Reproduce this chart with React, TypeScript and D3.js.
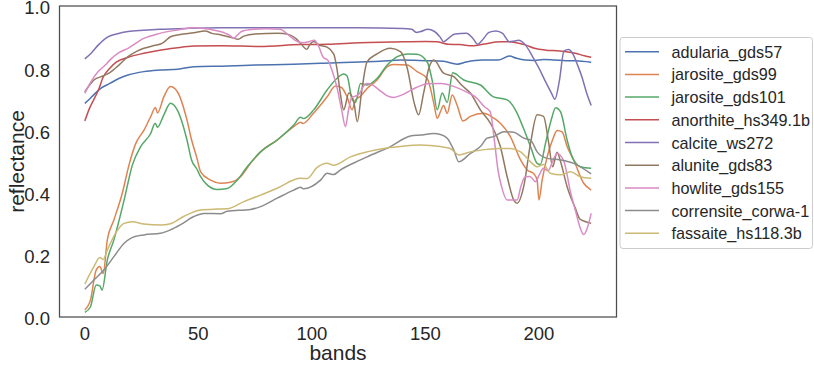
import React from "react";
import * as d3 from "d3";

type Pt = [number, number];

// [band, reflectance]
const adularia: Pt[] = [
  [0, 0.687], [2, 0.7], [4, 0.715], [7, 0.735], [11, 0.751], [15, 0.767], [19, 0.778],
  [26, 0.789], [33, 0.794], [41, 0.797], [48, 0.805], [63, 0.807], [75, 0.81], [92, 0.813],
  [105, 0.816], [121, 0.82], [130, 0.822], [139, 0.826], [150, 0.824], [158, 0.822],
  [164, 0.813], [168, 0.82], [175, 0.826], [182, 0.826], [187, 0.839], [190, 0.832],
  [194, 0.826], [198, 0.825], [202, 0.828], [207, 0.826], [212, 0.824], [216, 0.824],
  [223, 0.819],
];

const jarosite99: Pt[] = [
  [0, 0.023], [2.5, 0.055], [5, 0.151], [6.6, 0.162], [8.1, 0.14], [9.9, 0.248],
  [12.8, 0.312], [16.5, 0.398], [19.5, 0.49], [22.5, 0.559], [26, 0.6], [29, 0.644],
  [31.1, 0.674], [32, 0.656], [34.8, 0.708], [37.7, 0.741], [40.7, 0.725], [45, 0.633],
  [47, 0.57], [49.4, 0.51], [51, 0.467], [55.4, 0.44], [59.8, 0.43], [64.2, 0.433],
  [68.6, 0.451], [73, 0.494], [77.4, 0.531], [84.7, 0.569], [92, 0.612], [95, 0.626],
  [96, 0.622], [100.8, 0.656], [106.7, 0.708], [110.4, 0.743], [113, 0.738], [115.5, 0.708],
  [117.7, 0.666], [119.2, 0.698], [121.4, 0.71], [124.3, 0.735], [128.7, 0.762],
  [133.2, 0.805], [136, 0.812], [142, 0.81], [146.3, 0.789], [150.8, 0.767], [153.7, 0.687],
  [155.2, 0.639], [156.6, 0.66], [158, 0.68], [159.6, 0.655], [161.8, 0.714], [164, 0.68],
  [166.5, 0.63], [169.8, 0.645], [175.7, 0.655], [180, 0.64], [183, 0.623], [187.4, 0.58],
  [191.9, 0.505], [194.8, 0.473], [197.8, 0.46], [199.2, 0.44], [200, 0.376], [201.4, 0.44],
  [203.6, 0.515], [206, 0.57], [208, 0.6], [210.2, 0.595], [212.4, 0.548], [215.3, 0.505],
  [219.7, 0.43], [223, 0.408],
];

const jarosite101: Pt[] = [
  [0, 0.015], [2.5, 0.033], [5, 0.103], [6.6, 0.1], [7.6, 0.087], [9.9, 0.183],
  [12.8, 0.248], [17.3, 0.376], [21, 0.49], [24.6, 0.548], [29, 0.59], [31, 0.623],
  [32, 0.61], [34.8, 0.65], [37.7, 0.687], [40.7, 0.666], [45, 0.569], [47, 0.505],
  [49.4, 0.475], [51, 0.451], [54, 0.424], [58.3, 0.41], [62.7, 0.413], [67.1, 0.44],
  [71.5, 0.483], [77.4, 0.531], [84.7, 0.569], [92, 0.617], [95, 0.642], [96.3, 0.638],
  [100.8, 0.666], [106.7, 0.73], [111, 0.767], [114, 0.781], [115.5, 0.775], [117.7, 0.7],
  [119.2, 0.69], [121.4, 0.751], [124.3, 0.746], [128.7, 0.767], [133.2, 0.81],
  [137.6, 0.837], [142, 0.846], [146.3, 0.845], [150.8, 0.82], [153, 0.76], [155.2, 0.666],
  [157.4, 0.72], [159.6, 0.69], [162, 0.785], [166.9, 0.762], [174.2, 0.746], [180, 0.708],
  [186, 0.698], [190.4, 0.655], [193, 0.61], [196.3, 0.548], [199.2, 0.494], [200.6, 0.49],
  [202.9, 0.559], [205.8, 0.644], [207.3, 0.673], [209.5, 0.66], [212.4, 0.569],
  [214.6, 0.515], [218.3, 0.483], [223, 0.478],
];

const anorthite: Pt[] = [
  [0, 0.63], [2, 0.67], [4, 0.7], [6, 0.73], [8, 0.77], [11, 0.8], [14, 0.82], [19, 0.835],
  [26, 0.848], [33, 0.858], [40, 0.865], [48, 0.871], [60, 0.872], [77, 0.87], [95, 0.876],
  [107, 0.877], [121, 0.882], [135, 0.884], [150, 0.886], [155, 0.885], [160, 0.877],
  [165, 0.876], [171, 0.872], [176, 0.878], [183, 0.885], [187, 0.885], [190, 0.882],
  [194, 0.875], [198, 0.864], [203, 0.858], [208, 0.856], [212, 0.853], [216, 0.848],
  [220, 0.84], [223, 0.835],
];

const calcite: Pt[] = [
  [0, 0.83], [3, 0.85], [6, 0.875], [10, 0.9], [14, 0.91], [19, 0.918], [26, 0.922],
  [33, 0.925], [45, 0.928], [60, 0.93], [80, 0.93], [100, 0.93], [120, 0.93], [140, 0.928],
  [144, 0.925], [146, 0.915], [148, 0.918], [151, 0.925], [154, 0.918], [156.5, 0.9],
  [158, 0.885], [160, 0.895], [163, 0.91], [168, 0.912], [171, 0.895], [173, 0.877],
  [175, 0.89], [178, 0.915], [181, 0.92], [184, 0.912], [187, 0.885], [189, 0.887],
  [191, 0.89], [194, 0.875], [197, 0.84], [200, 0.8], [203, 0.755], [205.5, 0.72],
  [207, 0.7], [209, 0.76], [211, 0.855], [213, 0.86], [215, 0.845], [217, 0.81],
  [219, 0.77], [221, 0.72], [223, 0.68],
];

const alunite: Pt[] = [
  [0, 0.724], [2, 0.745], [4, 0.762], [8, 0.775], [11, 0.786], [15, 0.81], [19, 0.837],
  [23, 0.855], [26, 0.864], [30, 0.872], [33, 0.877], [35, 0.885], [37.7, 0.901], [42, 0.908],
  [48, 0.914], [53, 0.92], [56, 0.912], [60, 0.907], [65, 0.898], [67.5, 0.893], [70, 0.903],
  [75, 0.91], [85, 0.912], [90, 0.908], [93, 0.895], [95, 0.88], [97.8, 0.861], [99, 0.875],
  [100.8, 0.886], [103, 0.875], [106.7, 0.868], [109.6, 0.846], [111, 0.8], [112.5, 0.72],
  [114, 0.666], [116.3, 0.72], [118.5, 0.69], [120, 0.628], [122, 0.73], [124.3, 0.82],
  [128.7, 0.846], [134.6, 0.864], [139, 0.853], [142, 0.8], [145, 0.69], [147, 0.65],
  [149.2, 0.72], [151.5, 0.8], [153.7, 0.826], [158, 0.784], [162.5, 0.773], [166, 0.745],
  [169.8, 0.72], [174.2, 0.666], [178.6, 0.623], [183, 0.548], [186, 0.451], [188.9, 0.376],
  [190.4, 0.366], [193.3, 0.42], [196.3, 0.559], [199.2, 0.65], [202, 0.645], [204.3, 0.559],
  [206, 0.483], [208, 0.53], [209.5, 0.5], [212.4, 0.419], [216, 0.35], [218, 0.315],
  [220, 0.308], [223, 0.301],
];

const howlite: Pt[] = [
  [0, 0.719], [3, 0.76], [6, 0.79], [9, 0.81], [11, 0.826], [15, 0.85], [19, 0.864],
  [26, 0.896], [33, 0.912], [40, 0.922], [48, 0.93], [55, 0.925], [62, 0.912], [64, 0.905],
  [65.6, 0.896], [67, 0.905], [69, 0.918], [74, 0.925], [80, 0.927], [86, 0.925], [90, 0.905],
  [93, 0.888], [96, 0.882], [99, 0.886], [101, 0.89], [103, 0.87], [105, 0.835], [107, 0.826],
  [109, 0.79], [111, 0.74], [113, 0.67], [114.8, 0.612], [116, 0.66], [117.5, 0.705],
  [120.5, 0.715], [124, 0.751], [127, 0.745], [130, 0.728], [133, 0.712], [136, 0.706],
  [140, 0.715], [146, 0.738], [151, 0.75], [157, 0.751], [163, 0.74], [168, 0.724],
  [172, 0.708], [176, 0.676], [178.5, 0.66], [180.5, 0.56], [182, 0.47], [183.5, 0.42],
  [186, 0.376], [190.4, 0.376], [192, 0.419], [194, 0.451], [196, 0.452], [198.5, 0.435],
  [200, 0.455], [202, 0.478], [204, 0.47], [206, 0.5], [208, 0.526], [211, 0.5],
  [214, 0.398], [216, 0.344], [218, 0.29], [219.7, 0.265], [221, 0.28], [223, 0.333],
];

const corrensite: Pt[] = [
  [0, 0.089], [4, 0.119], [8.4, 0.151], [12.8, 0.194], [17.3, 0.237], [20.2, 0.253],
  [26, 0.264], [33.3, 0.269], [37.7, 0.28], [42, 0.296], [48, 0.323], [52.4, 0.333],
  [59.8, 0.332], [62.7, 0.34], [73, 0.346], [77.4, 0.355], [84.7, 0.382], [92, 0.408],
  [95, 0.417], [96.4, 0.412], [103.8, 0.44], [106.7, 0.462], [109.6, 0.458], [112.6, 0.473],
  [121.4, 0.505], [124.3, 0.515], [134.6, 0.548], [143.4, 0.582], [147.7, 0.585],
  [153.7, 0.59], [156.6, 0.587], [159.6, 0.575], [162.5, 0.537], [164.7, 0.499],
  [169.8, 0.526], [174.2, 0.548], [177.2, 0.575], [180, 0.58], [184.5, 0.596],
  [188.9, 0.594], [193.3, 0.575], [196.3, 0.569], [199.2, 0.531], [203.6, 0.51],
  [209.5, 0.505], [215.3, 0.494], [223, 0.46],
];

const fassaite: Pt[] = [
  [0, 0.106], [4, 0.162], [6.6, 0.191], [8.1, 0.185], [9.9, 0.215], [13.5, 0.269],
  [17.3, 0.301], [21, 0.306], [26, 0.299], [33.3, 0.296], [37.7, 0.3], [43.5, 0.323],
  [51, 0.344], [58.3, 0.347], [62.7, 0.348], [70, 0.371], [77.4, 0.392], [84.7, 0.414],
  [95, 0.446], [97.8, 0.445], [102.2, 0.48], [106.7, 0.494], [109.6, 0.488], [117, 0.515],
  [124.3, 0.531], [131.7, 0.542], [139, 0.548], [147.7, 0.553], [156.6, 0.548],
  [160.9, 0.542], [164.7, 0.521], [169.8, 0.531], [177.2, 0.539], [183, 0.542],
  [187.4, 0.542], [191.9, 0.531], [196.3, 0.499], [199.2, 0.483], [202, 0.49], [205, 0.462],
  [209.5, 0.457], [213.9, 0.467], [218.3, 0.451], [223, 0.446],
];

const seriesNames = [
  "adularia_gds57",
  "jarosite_gds99",
  "jarosite_gds101",
  "anorthite_hs349.1b",
  "calcite_ws272",
  "alunite_gds83",
  "howlite_gds155",
  "corrensite_corwa-1",
  "fassaite_hs118.3b",
];
const seriesData = [adularia, jarosite99, jarosite101, anorthite, calcite, alunite, howlite, corrensite, fassaite];
const palette = ["#4C72B0", "#DD8452", "#55A868", "#C44E52", "#8172B3", "#937860", "#DA8BC3", "#8C8C8C", "#CCB974"];

const xTicks = [0, 50, 100, 150, 200];
const yTicks = [0, 0.2, 0.4, 0.6, 0.8, 1.0];

const FONT = "'Liberation Sans', Arial, sans-serif";

export default function App() {
  const width = 814;
  const height = 367;
  const plot = { left: 59.5, right: 616.5, top: 6, bottom: 317 };

  // matplotlib-like 5% margins around bands 0..223
  const x = d3.scaleLinear().domain([-11.15, 234.15]).range([plot.left, plot.right]);
  const y = d3.scaleLinear().domain([0, 1]).range([plot.bottom, plot.top]);

  const line = d3
    .line<Pt>()
    .x((d) => x(d[0]))
    .y((d) => y(d[1]))
    .curve(d3.curveMonotoneX);

  const legend = { x: 620, y: 37.5, w: 192.5, h: 211, row: 22.7 };

  return (
    <svg
      width={width}
      height={height}
      style={{ position: "absolute", left: 0, top: 0, background: "#fff" }}
      fontFamily={FONT}
    >
      <defs>
        <clipPath id="plot-clip">
          <rect x={plot.left} y={plot.top} width={plot.right - plot.left} height={plot.bottom - plot.top} />
        </clipPath>
      </defs>

      <g clipPath="url(#plot-clip)">
        {seriesData.map((d, i) => (
          <path key={seriesNames[i]} d={line(d) || ""} fill="none" stroke={palette[i]} strokeWidth={1.5} strokeLinejoin="round" />
        ))}
      </g>

      <rect
        x={plot.left}
        y={plot.top}
        width={plot.right - plot.left}
        height={plot.bottom - plot.top}
        fill="none"
        stroke="#4d4d4d"
        strokeWidth={1.25}
      />

      {yTicks.map((t) => (
        <text key={t} x={50} y={y(t) + 1.8} textAnchor="end" dominantBaseline="central" fontSize={18.5} fill="#262626">
          {t.toFixed(1)}
        </text>
      ))}
      {xTicks.map((t) => (
        <text key={t} x={x(t)} y={340} textAnchor="middle" fontSize={18.5} fill="#262626">
          {t}
        </text>
      ))}

      <text x={(plot.left + plot.right) / 2} y={360} textAnchor="middle" fontSize={21} fill="#262626">
        bands
      </text>
      <text
        transform={`translate(24,${(plot.top + plot.bottom) / 2}) rotate(-90)`}
        textAnchor="middle"
        fontSize={21}
        fill="#262626"
      >
        reflectance
      </text>

      <g>
        <rect x={legend.x} y={legend.y} width={legend.w} height={legend.h} rx={3} fill="#fff" fillOpacity={0.8} stroke="#ccc" />
        {seriesNames.map((name, i) => {
          const cy = 51.7 + i * legend.row;
          return (
            <g key={name}>
              <line x1={625} x2={659} y1={cy} y2={cy} stroke={palette[i]} strokeWidth={1.5} />
              <text x={671.5} y={cy} dominantBaseline="central" fontSize={16.2} fill="#262626">
                {name}
              </text>
            </g>
          );
        })}
      </g>
    </svg>
  );
}
